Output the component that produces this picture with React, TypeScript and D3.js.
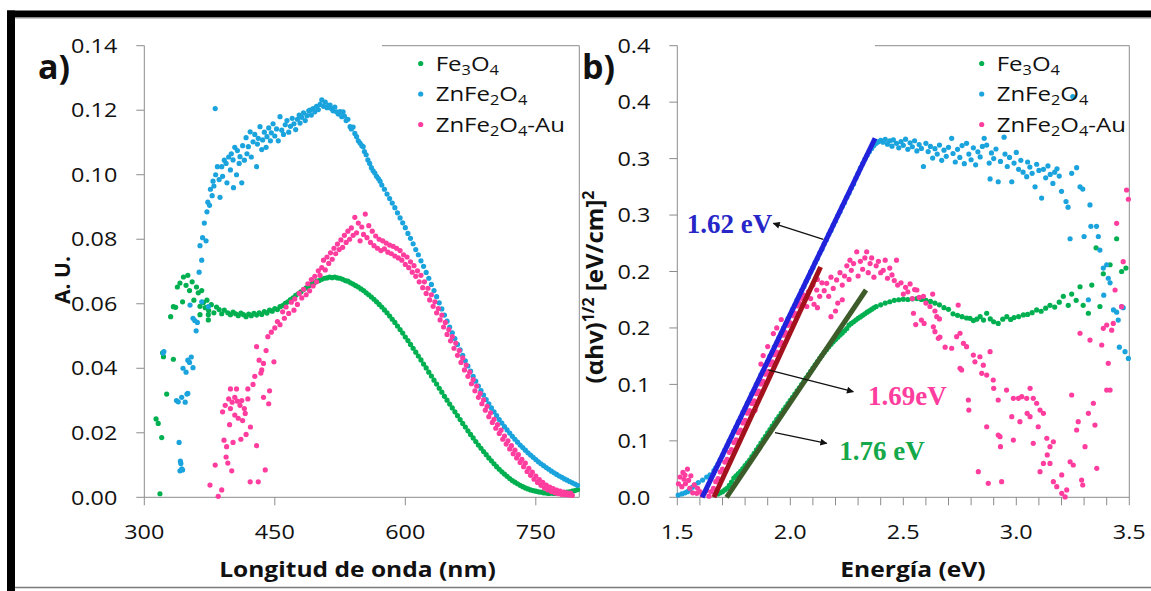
import React from "react";
import * as d3 from "d3";

type P = [number, number];

// ---------- series meta ----------
const seriesNames = ["Fe3O4", "ZnFe2O4", "ZnFe2O4-Au"];
const seriesColors = ["#00b050", "#1aa3dc", "#ff3d9e"];

// ---------- panel a) absorbance vs wavelength ----------
const absFe3O4: P[] = [
  [313.5,0.0243],[316,0.0229],[318,0.0011],[320,0.0185],[321,0.0448],[322,0.0436],[325.7,0.032],[330.3,0.056],[333.4,0.0428],[333.4,0.0591],[336,0.0589],[338,0.0652],[341,0.0664],[344,0.0606],[345,0.0683],[348,0.0657],[350,0.0688],[352,0.0641],[355,0.0668],[357,0.0611],[360,0.0652],[362,0.0634],[364,0.0566],[364,0.0592],[366,0.0641],[368,0.0604],[370,0.0588],[372,0.0611],[373.6,0.0566],[373.6,0.055],[374,0.0579],[377,0.0597],[380,0.0572],[383,0.0590],[386,0.0582],[389,0.0569],[392,0.0580],
  [396,0.0572],[399,0.0566],[402,0.0574],[405,0.0569],[408,0.0563],[411,0.0571],[414,0.0566],[417,0.0560],[420,0.0568],[423,0.0563],[426,0.0570],[429,0.0565],[432,0.0572],[435,0.0567],[438,0.0576],[441,0.0571],[444,0.0580],[447,0.0577],[450,0.0585],[453,0.0582],[456,0.0591],[459,0.0594],[462,0.0601],[465,0.0606],[468,0.0613],[471,0.0618],[474,0.0626],[477,0.0631],[480,0.0637],[483,0.0644],[486,0.0649],[489,0.0655],[492,0.0661],[495,0.0664],[498,0.0670],[501,0.0672],[504,0.0676],[507,0.0679],[510,0.0680],[513,0.0683],[516,0.0681],[519,0.0683],[522,0.0680],[525,0.0679],[528,0.0676],[531,0.0672],[534,0.0670],[537,0.0665],[540,0.0661],[543,0.0656],[546,0.0652],[549,0.0646],[552,0.0641],[555,0.0634],[558,0.0628],[561,0.0621],[564,0.0614],[567,0.0606],[570,0.0598],[573,0.0590],[576,0.0581],[579,0.0572],[582,0.0562],[585,0.0552],[588,0.0542],[591,0.0531],[594,0.0520],[597,0.0509],[600,0.0497],[603,0.0486],[606,0.0474],[609,0.0462],[612,0.0450],[615,0.0438],[618,0.0426],[621,0.0413],[624,0.0401],[627,0.0388],[630,0.0376],[633,0.0363],[636,0.0351],[639,0.0338],[642,0.0326],[645,0.0313],[648,0.0301],[651,0.0289],[654,0.0277],[657,0.0265],[660,0.0253],[663,0.0241],[666,0.0229],[669,0.0218],[672,0.0206],[675,0.0195],[678,0.0184],[681,0.0173],[684,0.0162],[687,0.0152],[690,0.0142],[693,0.0132],[696,0.0122],[699,0.0113],[702,0.0104],[705,0.0095],[708,0.0087],[711,0.0079],[714,0.0072],[717,0.0065],[720,0.0058],[723,0.0052],[726,0.0047],[729,0.0042],[732,0.0037],[735,0.0033],[738,0.0029],[741,0.0026],[744,0.0023],[747,0.0021],[750,0.0019],[753,0.0017],[756,0.0016],[759,0.0014],[762,0.0013],[765,0.0012],[768,0.0013],[771,0.0012],[774,0.0013],[777,0.0014],[780,0.0013],[783,0.0015],[786,0.0016],[789,0.0017],[792,0.0019],[795,0.0021],[798,0.0024]
];

const absZnFe2O4: P[] = [
  [321.6,0.0447],[322.5,0.0452],[337,0.030],[339,0.0296],[340,0.017],[341,0.0082],[342,0.0105],[343,0.0088],[341.5,0.0112],[344,0.0085],[343,0.0310],[347,0.0295],[349,0.032],[350,0.0322],[344.5,0.040],[348,0.0388],[350,0.0425],[352,0.0418],[354,0.0435],[356,0.0402],[359.6,0.0516],[356,0.0555],[358,0.0548],[361,0.0542],[352.6,0.0596],[366,0.0606],[373.6,0.0591],
  [363,0.0698],[364,0.078],[366,0.0735],[367,0.0805],[369,0.085],[371,0.0795],[372,0.0885],[373,0.0915],[375,0.0905],[376,0.0955],[378,0.0935],[379,0.098],[380,0.0965],[381.5,0.1205],[382,0.1],[384,0.1025],[386,0.0985],[387,0.093],[389,0.1025],[390,0.0995],[392,0.1045],[394,0.1035],[395,0.0975],[397,0.1055],[399,0.1015],[400,0.1065],[402,0.1046],[402.5,0.096],[404,0.1085],[406,0.1],[407,0.1075],[409,0.1035],[410,0.1056],[412,0.0975],[413,0.109],[415,0.1045],[417,0.1115],[418,0.1065],[419.6,0.1087],[421.7,0.1133],[423,0.1055],[425,0.1102],[427,0.1125],[429,0.1025],[430,0.1095],[431,0.1113],[433,0.1149],[435,0.1078],[436,0.1108],[438,0.1132],[440,0.1085],[441,0.1118],[443,0.1145],[445,0.1105],[446,0.113],[448,0.1158],[450,0.112],[452,0.1142],[454,0.1105],[456,0.118],[458,0.1138],[460,0.1125],[462,0.1155],[464,0.1168],[466,0.1132],[468,0.1150],[470,0.1175],[472,0.1158],[474,0.114],[476,0.1172],[478,0.1185],[479,0.116],[481,0.1178],[483,0.1192],[485,0.1168],[487,0.1183],[489,0.1198],[490.5,0.120],[492,0.1185],[494,0.1205],[496,0.1195],[498,0.1212],[500,0.1202],[502,0.1218],[504,0.1232],[506,0.1212],[508,0.1225],[510,0.1208],[512,0.1215],[513.5,0.1216],[515,0.1205],[517,0.1198],[519,0.1210],[521,0.1195],[523,0.1188],[525,0.1196],[527,0.1180],[528.5,0.1195],[530,0.1182],[532,0.1168],[534,0.1172],[536.5,0.1149],[538,0.1142],[540,0.1148],[542,0.1128],[544,0.1118],[546,0.1105],[548,0.1098],[550,0.1090],[551.6,0.1087],[553,0.1072],[555,0.1062],[557,0.1046],[559,0.1035],[561,0.1022],[563,0.1012],[565,0.1005],[567,0.0995],[569,0.0988],[571,0.098],
  [573,0.0968],[576,0.0955],[579,0.0940],[582,0.0926],[585,0.0912],[588,0.0898],[591,0.0882],[594,0.0866],[597,0.0851],[600,0.0836],[603,0.0818],[606,0.0803],[609,0.0786],[612,0.0768],[615,0.0752],[618,0.0733],[621,0.0716],[624,0.0697],[627,0.0679],[630,0.0660],[633,0.0641],[636,0.0622],[639,0.0603],[642,0.0584],[645,0.0565],[648,0.0546],[651,0.0528],[654,0.0510],[657,0.0492],[660,0.0474],[663,0.0457],[666,0.0440],[669,0.0423],[672,0.0407],[675,0.0391],[678,0.0375],[681,0.0360],[684,0.0345],[687,0.0331],[690,0.0317],[693,0.0303],[696,0.0290],[699,0.0277],[702,0.0265],[705,0.0253],[708,0.0241],[711,0.0230],[714,0.0219],[717,0.0209],[720,0.0199],[723,0.0189],[726,0.0180],[729,0.0171],[732,0.0162],[735,0.0154],[738,0.0146],[741,0.0138],[744,0.0131],[747,0.0124],[750,0.0117],[753,0.0110],[756,0.0104],[759,0.0098],[762,0.0092],[765,0.0087],[768,0.0081],[771,0.0076],[774,0.0071],[777,0.0066],[780,0.0062],[783,0.0057],[786,0.0053],[789,0.0049],[792,0.0045],[795,0.0041],[798,0.0037]
];

const absZnFe2O4Au: P[] = [
  [375.5,0.0038],[385,0.0003],[389,0.0023],[381.5,0.010],[396,0.0106],[394,0.0125],[400.5,0.0082],[391.6,0.0177],[394.6,0.0157],[402,0.017],[390,0.0265],[393,0.0285],[397,0.0305],[399,0.0275],[401,0.0295],[404,0.0310],[407,0.0298],[410,0.0285],[412,0.0300],[415,0.0275],[419,0.0305],[399,0.0336],[406,0.0336],[419,0.0336],[398,0.0225],[404,0.0255],[408,0.0245],[413,0.0238],[416,0.0260],[411,0.0180],[417,0.0195],[422,0.0218],[421.7,0.0048],[431,0.0048],[439,0.0085],[429,0.016],[437,0.031],[443,0.0290],[444,0.0330],[425,0.035],[429,0.0467],[432,0.0425],[435,0.0395],[437,0.0415],[440,0.0455],[434,0.0385],[427,0.0375],[442,0.0498],[446,0.0512],[449,0.042],[450,0.0525],[453,0.0545],[456,0.0535],[459,0.0575],[461,0.0555],[463,0.0590],[466,0.0570],[469,0.0605],[472,0.0580],[473,0.0615],[476,0.0598],[478,0.0632],[481,0.0618],[483,0.0645],[486,0.0628],[488,0.0662],[490,0.0640],[492,0.0675],[494,0.0655],[496,0.0685],[498,0.0668],[500,0.0702],[502,0.0688],[504,0.0712],[506,0.0735],[508,0.0705],[510,0.0745],[512,0.0725],[514,0.0758],[516,0.0738],[518,0.0772],[520,0.0755],[522,0.0785],[524,0.0768],[526,0.0798],[528,0.0775],[530,0.0812],[532,0.0790],[534,0.0825],[536,0.0800],[538,0.0835],[540,0.0812],[542,0.0868],[544,0.0820],[546,0.0850],[548,0.0795],[550,0.0838],[552,0.0815],[554,0.0878],[556,0.0805],[558,0.0842],[560,0.0790],[562,0.0825],[564,0.0780],[566,0.0810],[568,0.0772],[570,0.0800],[572,0.0765],[574,0.0795],[576,0.0770],[578,0.0788],[580,0.0760],[582,0.0782],[584,0.0755],[586,0.0778],[588,0.0748],[590,0.0772],[592,0.0742],[594,0.0765],[596,0.0735],[598,0.0752],[600,0.0722],[602,0.0745],[604,0.0712],[606,0.0730],[608,0.0698],[610,0.0718],[612,0.0685],[614,0.0702],[616,0.0668],[618,0.0688],[620,0.0650],[622,0.0668],[624,0.0632],[626,0.0648],[628,0.0612],[630,0.0628],[632,0.0592],[634,0.0606],[636,0.0572],[638,0.0585],[640,0.0550],[642,0.0565],[644,0.0528],[646,0.0542],[648,0.0505],[650,0.0520],[652,0.0485],[654,0.0498],[656,0.0462],[658,0.0478],[660,0.0440],[662,0.0455],[664,0.0418],[666,0.0432],[668,0.0395],[670,0.0410],[672,0.0375],[674,0.0388],[676,0.0352],[678,0.0365],[680,0.0330],[682,0.0345],[684,0.0310],[686,0.0322],[688,0.0290],[690,0.0302],[692,0.0270],[694,0.0282],[696,0.0250],[698,0.0262],[700,0.0232],[702,0.0242],[704,0.0214],[706,0.0225],[708,0.0198],[710,0.0208],[712,0.0180],[714,0.0190],[716,0.0165],[718,0.0175],[720,0.0150],[722,0.0160],[724,0.0135],[726,0.0146],[728,0.0122],[730,0.0132],[732,0.0108],[734,0.0118],[736,0.0095],[738,0.0106],[740,0.0080],[742,0.0090],[744,0.0068],[746,0.0078],[748,0.0056],[750,0.0066],[752,0.0046],[754,0.0055],[756,0.0037],[758,0.0046],[760,0.0029],[762,0.0038],[764,0.0023],[766,0.0032],[768,0.0018],[770,0.0027],[772,0.0014],[774,0.0022],[776,0.0011],[778,0.0019],[780,0.0009],[782,0.0016],[784,0.0008],[786,0.0014],[788,0.0007],[790,0.0013],[792,0.0006]
];

// ---------- panel b) Tauc plot ----------
const taucFe3O4: P[] = [
  [1.68,0.003],[1.69,0.004],[1.70,0.005],[1.71,0.0065],[1.72,0.008],[1.73,0.0105],[1.74,0.0135],[1.75,0.017],[1.76,0.019],[1.77,0.021],[1.78,0.023],[1.79,0.0255],[1.80,0.028],[1.81,0.0305],[1.82,0.033],[1.83,0.036],[1.84,0.039],[1.85,0.042],[1.86,0.045],[1.87,0.048],[1.88,0.051],[1.89,0.054],[1.90,0.057],[1.91,0.060],[1.92,0.063],[1.93,0.066],[1.94,0.069],[1.95,0.0718],[1.96,0.0746],[1.97,0.0774],[1.98,0.0802],[1.99,0.083],[2.00,0.0858],[2.01,0.0886],[2.02,0.0914],[2.03,0.0942],[2.04,0.097],[2.05,0.0999],[2.06,0.1028],[2.07,0.1057],[2.08,0.1086],[2.09,0.1115],[2.10,0.1144],[2.11,0.1173],[2.12,0.1202],[2.13,0.1230],[2.14,0.1257],[2.15,0.1283],[2.16,0.1308],[2.17,0.1332],[2.18,0.1355],[2.19,0.1377],[2.20,0.1398],[2.21,0.1418],[2.22,0.1437],[2.23,0.1455],[2.24,0.1475],[2.25,0.1495],[2.26,0.1525],[2.27,0.1540],[2.28,0.1555],[2.29,0.1570],[2.30,0.1585],[2.31,0.1598],[2.32,0.1612],[2.33,0.1625],[2.34,0.1640],[2.35,0.1652],[2.36,0.1665],[2.37,0.1678],[2.38,0.1690],[2.40,0.1705],[2.42,0.1720],[2.44,0.1732],[2.46,0.1745],[2.48,0.1750],[2.50,0.1755],[2.52,0.1752],[2.54,0.1758],[2.56,0.1760],[2.58,0.1752],[2.60,0.1745],[2.62,0.1735],[2.64,0.1720],[2.66,0.1705],[2.68,0.1680],[2.70,0.1665],
  [2.72,0.1625],[2.74,0.1612],[2.76,0.160],[2.78,0.1588],[2.795,0.1585],[2.81,0.1565],[2.825,0.1578],[2.84,0.160],[2.855,0.1570],[2.869,0.163],[2.885,0.158],[2.90,0.1555],[2.92,0.154],[2.94,0.1578],[2.958,0.160],[2.975,0.1575],[2.99,0.1592],[3.01,0.160],[3.031,0.1615],[3.05,0.162],[3.07,0.1635],[3.09,0.166],[3.11,0.1648],[3.13,0.1675],[3.149,0.170],[3.17,0.1685],[3.19,0.1728],[3.208,0.178],[3.23,0.170],[3.245,0.180],[3.265,0.1745],[3.282,0.1865],[3.296,0.170],[3.319,0.163],[3.334,0.188],[3.353,0.221],[3.37,0.169],[3.385,0.198],[3.415,0.206],[3.444,0.229],[3.466,0.20],[3.485,0.203]
];

const taucZnFe2O4: P[] = [
  [1.504,0.002],[1.52,0.003],[1.534,0.004],[1.545,0.005],[1.556,0.0065],[1.567,0.009],[1.578,0.011],[1.593,0.013],[1.612,0.0153],[1.63,0.018],[1.645,0.0198],[1.662,0.0236],
  [1.67,0.026],[1.68,0.0295],[1.69,0.0335],[1.70,0.0372],[1.71,0.0418],[1.72,0.0455],[1.73,0.050],[1.74,0.0538],[1.75,0.0585],[1.76,0.0622],[1.77,0.0668],[1.78,0.0703],[1.79,0.0752],[1.80,0.0788],[1.81,0.0835],[1.82,0.0868],[1.83,0.0918],[1.84,0.0952],[1.85,0.1001],[1.86,0.1035],[1.87,0.1085],[1.88,0.1118],[1.89,0.1168],[1.90,0.1202],[1.91,0.1250],[1.92,0.1285],[1.93,0.1333],[1.94,0.1368],[1.95,0.1415],[1.96,0.1452],[1.97,0.1498],[1.98,0.1535],[1.99,0.1582],[2.00,0.1618],[2.01,0.1665],[2.02,0.1700],[2.03,0.1748],[2.04,0.1784],[2.05,0.1830],[2.06,0.1868],[2.07,0.1913],[2.08,0.1950],[2.09,0.1996],[2.10,0.2033],[2.11,0.2080],[2.12,0.2115],[2.13,0.2162],[2.14,0.2198],[2.15,0.2245],[2.16,0.2282],[2.17,0.2328],[2.18,0.2364],[2.19,0.2410],[2.20,0.2448],[2.21,0.2494],[2.22,0.2530],[2.23,0.2576],[2.24,0.2612],[2.25,0.2658],[2.26,0.2695],[2.27,0.2740],[2.28,0.2776],[2.29,0.2825],[2.30,0.2870],[2.31,0.2915],[2.32,0.2955],[2.33,0.2995],[2.34,0.3030],[2.35,0.3060],[2.36,0.3090],[2.37,0.3115],[2.38,0.3135],[2.39,0.3150],[2.40,0.3162],
  [2.41,0.3145],[2.42,0.3170],[2.43,0.3128],[2.44,0.3158],[2.45,0.3110],[2.456,0.3165],[2.47,0.3135],[2.48,0.3095],[2.49,0.3150],[2.50,0.3118],[2.51,0.3172],[2.52,0.3082],[2.53,0.3140],[2.54,0.3105],[2.55,0.3158],[2.56,0.3068],[2.57,0.3125],[2.58,0.3090],[2.589,0.2930],[2.60,0.3135],[2.61,0.3062],[2.62,0.3108],[2.63,0.3005],[2.64,0.3088],[2.65,0.3040],[2.66,0.3120],[2.67,0.2985],[2.68,0.3075],[2.69,0.3020],[2.70,0.3100],[2.714,0.3180],[2.72,0.3045],[2.73,0.2970],[2.74,0.3082],[2.75,0.3010],[2.76,0.3115],[2.77,0.2955],[2.78,0.3135],[2.79,0.3040],[2.80,0.2990],[2.81,0.3095],[2.82,0.2945],[2.83,0.3060],[2.84,0.3015],[2.85,0.3108],[2.858,0.3180],[2.869,0.3120],[2.88,0.2960],[2.884,0.2820],[2.89,0.3050],[2.90,0.3000],[2.91,0.3085],[2.92,0.2795],[2.93,0.2975],[2.946,0.3190],[2.95,0.3040],[2.96,0.2930],[2.97,0.3010],[2.98,0.2795],[2.99,0.2960],[3.00,0.3055],[3.01,0.2905],[3.02,0.2985],[3.03,0.2880],[3.046,0.2840],[3.05,0.2970],[3.06,0.2925],[3.07,0.2870],[3.083,0.2750],[3.09,0.2950],[3.10,0.2895],[3.112,0.2650],[3.12,0.2905],[3.13,0.2830],[3.14,0.2935],[3.15,0.2860],[3.162,0.2780],[3.17,0.2880],[3.18,0.2910],[3.19,0.2845],[3.20,0.2710],[3.22,0.2620],[3.229,0.2570],[3.238,0.2290],[3.245,0.2870],[3.25,0.3550],[3.267,0.2920],[3.282,0.2750],[3.294,0.2730],[3.30,0.2310],[3.319,0.1750],[3.326,0.2590],[3.33,0.2400],[3.355,0.2400],[3.363,0.2310],[3.37,0.2190],[3.385,0.2030],[3.387,0.1790],[3.40,0.2060],[3.407,0.1940],[3.415,0.1900],[3.43,0.1660],[3.444,0.1640],[3.451,0.1570],[3.456,0.1330],[3.466,0.1690],[3.473,0.1680],[3.481,0.1290],[3.496,0.1230]
];

const taucZnFe2O4Au: P[] = [
  [1.505,0.012],[1.512,0.018],[1.52,0.0094],[1.525,0.022],[1.53,0.016],[1.534,0.0197],[1.536,0.012],[1.545,0.025],[1.55,0.015],[1.555,0.008],[1.56,0.019],[1.568,0.004],[1.575,0.011],[1.586,0.0035],[1.59,0.008],[1.60,0.005],[1.61,0.002],[1.62,0.004],[1.63,0.006],[1.64,0.001],
  [1.65,0.0050],[1.66,0.0080],[1.67,0.0138],[1.68,0.0165],[1.69,0.0225],[1.70,0.0250],[1.71,0.0312],[1.72,0.0336],[1.73,0.0398],[1.74,0.0422],[1.75,0.0485],[1.76,0.0508],[1.77,0.0572],[1.78,0.0595],[1.79,0.0658],[1.80,0.0681],[1.81,0.0745],[1.82,0.0768],[1.83,0.0831],[1.84,0.0855],[1.85,0.0918],[1.86,0.0940],[1.87,0.1004],[1.88,0.1027],[1.89,0.1090],[1.90,0.1113],[1.91,0.1177],[1.92,0.1200],[1.93,0.1263],[1.94,0.1286],[1.95,0.1350],[1.96,0.1372],[1.97,0.1436],[1.98,0.1458],[1.99,0.1523],[2.00,0.1545],[2.01,0.1609],[2.02,0.1632],[2.03,0.1695],[2.04,0.1718],[2.05,0.1762],[2.06,0.1792],
  [1.844,0.077],[1.87,0.118],[1.90,0.1335],[1.925,0.145],[1.94,0.150],[1.96,0.1575],[1.88,0.1255],
  [2.073,0.169],[2.08,0.182],[2.09,0.176],[2.10,0.188],[2.105,0.171],[2.117,0.1836],[2.12,0.193],[2.13,0.178],[2.14,0.190],[2.15,0.183],[2.161,0.1895],[2.17,0.178],[2.18,0.195],[2.19,0.185],[2.205,0.1925],[2.21,0.172],[2.22,0.199],[2.23,0.188],[2.24,0.196],[2.25,0.205],[2.26,0.193],[2.264,0.210],[2.27,0.201],[2.28,0.207],[2.294,0.2175],[2.30,0.196],[2.31,0.209],[2.32,0.202],[2.33,0.212],[2.338,0.2175],[2.345,0.199],[2.353,0.207],[2.36,0.212],[2.37,0.195],[2.38,0.205],[2.39,0.209],[2.40,0.199],[2.411,0.201],[2.42,0.210],[2.43,0.194],[2.44,0.203],[2.45,0.197],[2.46,0.192],[2.47,0.210],[2.475,0.188],[2.49,0.190],[2.50,0.180],[2.51,0.186],[2.52,0.182],[2.53,0.189],[2.54,0.176],[2.55,0.184],[2.56,0.1836],[2.57,0.177],[2.589,0.178],[2.60,0.172],[2.618,0.169],[2.63,0.180],[2.64,0.165],[2.648,0.160],[2.66,0.158],[2.545,0.163],[2.555,0.153],[2.58,0.157],[2.592,0.154],[2.633,0.151],[2.662,0.142],[2.685,0.133],[2.20,0.165],[2.18,0.160],[2.23,0.175],[2.12,0.168],
  [2.640,0.1467],[2.655,0.1408],[2.714,0.132],[2.736,0.1423],[2.743,0.1703],[2.751,0.1453],[2.766,0.1364],[2.78,0.1334],[2.81,0.126],[2.817,0.120],[2.839,0.1245],[2.854,0.117],[2.884,0.129],[2.751,0.1142],[2.758,0.1128],[2.847,0.1098],[2.869,0.1083],[2.898,0.1039],[2.900,0.0965],[2.788,0.0862],[2.790,0.0773],[2.92,0.0862],[2.957,0.095],[2.987,0.0877],[3.009,0.0877],[3.024,0.0891],[3.046,0.0877],[3.061,0.0965],[3.075,0.0877],[3.09,0.0833],[3.105,0.0773],[3.12,0.0744],[3.048,0.0744],[2.98,0.0714],[3.016,0.067],[3.061,0.0714],[3.097,0.0625],[2.869,0.0625],[2.92,0.0552],[2.928,0.0537],[2.930,0.0448],[2.987,0.0507],[3.075,0.0478],[3.135,0.0523],[3.164,0.0492],[3.149,0.0448],[3.137,0.0375],[3.149,0.030],[3.12,0.030],[3.105,0.0227],[2.832,0.0227],[2.876,0.0124],[2.935,0.0138],[3.164,0.0138],[3.179,0.0094],[3.201,0.0035],[3.216,0.0003],[3.223,0.0065],[3.201,0.0198],[3.238,0.0315],[3.252,0.0286],[3.245,0.0906],[3.267,0.0596],[3.274,0.067],[3.282,0.1453],[3.326,0.1393],[3.304,0.0448],[3.319,0.0744],[3.341,0.0833],[3.348,0.064],[3.356,0.0257],[3.289,0.0153],[3.294,0.0109],[3.378,0.1349],[3.385,0.1497],[3.40,0.1526],[3.407,0.1187],[3.40,0.095],[3.415,0.095],[3.422,0.148],[3.429,0.154],[3.437,0.1836],[3.444,0.2427],[3.466,0.1688],[3.473,0.2087],[3.488,0.2722],[3.496,0.264]
];

// ---------- axes ----------
const leftXTicks = [300, 450, 600, 750];
const leftYTicks = [0, 0.02, 0.04, 0.06, 0.08, 0.1, 0.12, 0.14];
const rightXTicks = [1.5, 2.0, 2.5, 3.0, 3.5];
const rightXMinorTicks = [1.5,1.6,1.7,1.8,1.9,2.0,2.1,2.2,2.3,2.4,2.5,2.6,2.7,2.8,2.9,3.0,3.1,3.2,3.3,3.4,3.5];
const rightYTicks = [0, 0.05, 0.1, 0.15, 0.2, 0.25, 0.3, 0.35, 0.4];
const rightYTickLabels = ["0.0", "0.1", "0.1", "0.2", "0.2", "0.3", "0.3", "0.4", "0.4"];

// ---------- linear fits and band-gap labels ----------
const fitBlue: P[] = [[1.61, 0], [2.375, 0.318]];
const fitRed: P[] = [[1.662, 0], [2.134, 0.204]];
const fitGreen: P[] = [[1.718, 0], [2.335, 0.1836]];
const fitColors = ["#2222dd", "#a3121c", "#3d5c2a"];

const gapLabels = ["1.62 eV", "1.69eV", "1.76 eV"];
const gapLabelColors = ["#2727c8", "#ff3d9e", "#14a84a"];
const gapLabelAnchor: P[] = [[1.5416, 0.234], [2.3438, 0.0818], [2.2168, 0.033]];
const gapArrowTail: P[] = [[2.146, 0.2285], [1.9027, 0.1128], [1.9323, 0.0572]];
const gapArrowHead: P[] = [[1.925, 0.2427], [2.2788, 0.0935], [2.1611, 0.0478]];

// ---------- layout ----------
const W = 1151, H = 591;
const L = { x0: 144.3, x1: 579.3, y0: 45.7, y1: 497.3 };
const R = { x0: 677.3, x1: 1129.3, y0: 45.7, y1: 497.3 };
const FONT = "'Open Sans', 'Noto Sans', sans-serif";
const AXIS = "#8c8c8c";
const SX = 1.17; // horizontal stretch of the reference lettering

const xL = d3.scaleLinear().domain([300, 800]).range([L.x0, L.x1]);
const yL = d3.scaleLinear().domain([0, 0.14]).range([L.y1, L.y0]);
const xR = d3.scaleLinear().domain([1.5, 3.5]).range([R.x0, R.x1]);
const yR = d3.scaleLinear().domain([0, 0.4]).range([R.y1, R.y0]);

function T({ x, y, anchor = "start", size = 20, bold = false, children }: any) {
  return (
    <text
      transform={`translate(${x},${y}) scale(${SX},1)`}
      textAnchor={anchor}
      fontSize={size}
      fontWeight={bold ? "bold" : "normal"}
      fontFamily={FONT}
      fill="#111"
    >
      {children}
    </text>
  );
}

function Chem({ s, sub = 14 }: { s: string; sub?: number }) {
  const parts = s.split(/(\d)/).filter((p) => p.length > 0);
  let lowered = false;
  return (
    <>
      {parts.map((p, i) => {
        const isDigit = /^\d$/.test(p);
        let dy = 0;
        if (isDigit && !lowered) { dy = 4; lowered = true; }
        else if (!isDigit && lowered) { dy = -4; lowered = false; }
        return (
          <tspan key={i} dy={dy} fontSize={isDigit ? sub : undefined}>{p}</tspan>
        );
      })}
    </>
  );
}

function Legend({ x, y }: { x: number; y: number }) {
  return (
    <g>
      {seriesNames.map((n, i) => (
        <g key={n}>
          <circle cx={x} cy={y + i * 30.5} r={2.6} fill={seriesColors[i]} />
          <T x={x + 15} y={y + i * 30.5 + 7} size={20.5}>
            <Chem s={n} />
          </T>
        </g>
      ))}
    </g>
  );
}

function Dots({ data, x, y, color }: { data: P[]; x: any; y: any; color: string }) {
  return (
    <g>
      {data.map((d, i) => (
        <circle key={i} cx={x(d[0])} cy={y(d[1])} r={2.6} fill={color} />
      ))}
    </g>
  );
}

export default function App() {
  const lr = d3.line<P>().x((d) => xR(d[0])).y((d) => yR(d[1]));
  return (
    <svg width={W} height={H} style={{ position: "absolute", left: 0, top: 0, background: "#fff" }}>
      <defs>
        <marker id="ah" viewBox="0 0 10 10" refX="9" refY="5" markerWidth="9" markerHeight="7" markerUnits="userSpaceOnUse" orient="auto">
          <path d="M0,0 L10,5 L0,10 z" fill="#111" />
        </marker>
      </defs>
      <rect x={0} y={0} width={W} height={H} fill="#fff" />
      {/* frame */}
      <rect x={7} y={10.5} width={W - 7} height={7} fill="#000" />
      <rect x={7} y={10.5} width={8} height={H - 10.5} fill="#000" />
      <line x1={15} x2={W} y1={18.3} y2={18.3} stroke="#bdbdbd" strokeWidth={1} />
      <line x1={15} x2={W} y1={587.5} y2={587.5} stroke="#7a7a7a" strokeWidth={1.5} />

      {/* ===== panel a ===== */}
      <line x1={L.x0} x2={L.x0} y1={L.y0} y2={L.y1} stroke={AXIS} />
      <line x1={L.x0} x2={L.x1} y1={L.y1} y2={L.y1} stroke={AXIS} />
      <line x1={L.x1} x2={L.x1} y1={L.y0} y2={L.y1} stroke={AXIS} />
      <line x1={382} x2={L.x1} y1={L.y0} y2={L.y0} stroke={AXIS} />
      {leftYTicks.map((t) => (
        <g key={t}>
          <line x1={L.x0 - 8} x2={L.x0} y1={yL(t)} y2={yL(t)} stroke={AXIS} />
          <T x={L.x0 - 27} y={yL(t) + 7.2} anchor="end">{d3.format(".2f")(t)}</T>
        </g>
      ))}
      {leftXTicks.map((t) => (
        <g key={t}>
          <line x1={xL(t)} x2={xL(t)} y1={L.y1} y2={L.y1 + 8} stroke={AXIS} />
          <T x={xL(t)} y={L.y1 + 42} anchor="middle">{t}</T>
        </g>
      ))}
      <T x={357.5} y={577} anchor="middle" size={21} bold>Longitud de onda (nm)</T>
      <text transform={`translate(70,280) rotate(-90)`} textAnchor="middle" fontSize={21} fontWeight="bold" fontFamily={FONT} fill="#111">
        A. U.
      </text>
      <text x={38} y={79} fontSize={34} fontWeight="bold" fontFamily={FONT} fill="#111">a)</text>
      <Dots data={absFe3O4} x={xL} y={yL} color={seriesColors[0]} />
      <Dots data={absZnFe2O4} x={xL} y={yL} color={seriesColors[1]} />
      <Dots data={absZnFe2O4Au} x={xL} y={yL} color={seriesColors[2]} />
      <Legend x={420.7} y={63.5} />

      {/* ===== panel b ===== */}
      <line x1={R.x0} x2={R.x0} y1={R.y0} y2={R.y1} stroke={AXIS} />
      <line x1={R.x0} x2={R.x1} y1={R.y1} y2={R.y1} stroke={AXIS} />
      <line x1={R.x1} x2={R.x1} y1={R.y0} y2={R.y1} stroke={AXIS} />
      <line x1={875} x2={R.x1} y1={R.y0} y2={R.y0} stroke={AXIS} />
      {rightYTicks.map((t, i) => (
        <g key={t}>
          <line x1={R.x0 - 8} x2={R.x0} y1={yR(t)} y2={yR(t)} stroke={AXIS} />
          <T x={R.x0 - 27} y={yR(t) + 7.2} anchor="end">{rightYTickLabels[i]}</T>
        </g>
      ))}
      {rightXMinorTicks.map((t) => (
        <line key={t} x1={xR(t)} x2={xR(t)} y1={R.y1} y2={R.y1 + 8} stroke={AXIS} />
      ))}
      {rightXTicks.map((t) => (
        <T key={t} x={xR(t)} y={R.y1 + 42} anchor="middle">{d3.format(".1f")(t)}</T>
      ))}
      <T x={913} y={577} anchor="middle" size={21} bold>Energía (eV)</T>
      <text transform={`translate(603,287) rotate(-90)`} textAnchor="middle" fontSize={24} fontWeight="bold" fontFamily={FONT} fill="#111">
        <tspan>(αhv)</tspan>
        <tspan dy={-9} fontSize={16}>1/2</tspan>
        <tspan dy={9}> [eV/cm]</tspan>
        <tspan dy={-9} fontSize={16}>2</tspan>
      </text>
      <text x={582} y={79} fontSize={34} fontWeight="bold" fontFamily={FONT} fill="#111">b)</text>
      <Dots data={taucFe3O4} x={xR} y={yR} color={seriesColors[0]} />
      <Dots data={taucZnFe2O4} x={xR} y={yR} color={seriesColors[1]} />
      <Dots data={taucZnFe2O4Au} x={xR} y={yR} color={seriesColors[2]} />
      {[fitBlue, fitRed, fitGreen].map((f, i) => (
        <path key={i} d={lr(f) || ""} stroke={fitColors[i]} strokeWidth={5} fill="none" />
      ))}
      {gapLabels.map((g, i) => (
        <g key={g}>
          <line
            x1={xR(gapArrowTail[i][0])} y1={yR(gapArrowTail[i][1])}
            x2={xR(gapArrowHead[i][0])} y2={yR(gapArrowHead[i][1])}
            stroke="#111" strokeWidth={1.3} markerEnd="url(#ah)"
          />
          <text x={xR(gapLabelAnchor[i][0])} y={yR(gapLabelAnchor[i][1])} fontSize={27} fontWeight="bold"
            fontFamily="'Liberation Serif', 'Times New Roman', serif" fill={gapLabelColors[i]}>
            {g}
          </text>
        </g>
      ))}
      <Legend x={981.7} y={63.5} />
    </svg>
  );
}
